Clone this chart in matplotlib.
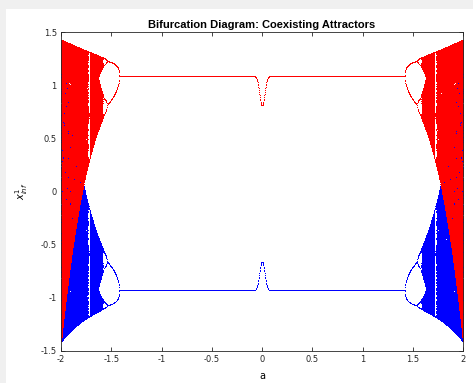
import matplotlib as mpl
mpl.use('Agg')
import matplotlib.pyplot as plt
import numpy as np

# values
a_min, a_max = -2.0, 2.0
n_a = 1601
red_level = 1.08        # upper fixed point
blue_level = -0.94      # lower fixed point
red_dip = 0.28          # depth of the dip of the upper branch at a = 0
blue_dip = 0.27         # height of the bump of the lower branch at a = 0
dip_width = 0.035
a_doubling = 1.42       # first period doubling
edge_at_2 = 1.42        # attractor extent at |a| = 2
x_ticks = [-2, -1.5, -1, -0.5, 0, 0.5, 1, 1.5, 2]
y_ticks = [-1.5, -1, -0.5, 0, 0.5, 1, 1.5]
n_transient = 3000
n_keep = 400

a = np.linspace(a_min, a_max, n_a)


def attractor(level, dip, sign):
    # level and dip are magnitudes, sign picks the upper (+1) or lower (-1) attractor
    t = np.clip((np.abs(a) - a_doubling) / (a_max - a_doubling), 0, 1)
    r = np.where(t > 0, 4 - (1 - t) ** 2.5, 3 - 2 * (a_doubling - np.abs(a)))
    r = np.maximum(r, 2.2)
    zstar = 1 - 1 / r
    s = t ** 3
    mid = edge_at_2 / 2
    c = level + (mid - level) * s - dip * np.exp(-(a / dip_width) ** 2)
    q = 1 + (2 * edge_at_2 - 1) * s
    z = np.full_like(a, 0.3)
    for _ in range(n_transient):
        z = r * z * (1 - z)
    out = np.empty((n_keep, n_a))
    for k in range(n_keep):
        z = r * z * (1 - z)
        out[k] = sign * (c + q * (z - zstar))
    return out


y_red = attractor(red_level, red_dip, 1)
y_blue = attractor(-blue_level, blue_dip, -1)

fig = plt.figure(figsize=(4.73, 3.83), dpi=100, facecolor='#f0f0f0')
fig.patches.append(plt.Rectangle((6 / 473, 0), 1, 1 - 9 / 383, transform=fig.transFigure,
                                 facecolor='white', edgecolor='none', zorder=-1))
ax = fig.add_axes([61 / 473, 1 - 351 / 383, 402 / 473, 319 / 383])

A = np.tile(a, (n_keep, 1))
ax.plot(A.ravel(), y_blue.ravel(), ',', color='#0000ff')
ax.plot(A.ravel(), y_red.ravel(), ',', color='#ff0000')

ax.set_xlim(-2, 2)
ax.set_ylim(-1.5, 1.5)
ax.set_xticks(x_ticks)
ax.set_xticklabels(['-2', '-1.5', '-1', '-0.5', '0', '0.5', '1', '1.5', '2'])
ax.set_yticks(y_ticks)
ax.set_yticklabels(['-1.5', '-1', '-0.5', '0', '0.5', '1', '1.5'])
ax.tick_params(direction='in', top=True, right=True, length=3, width=0.6,
               labelsize=6, colors='#262626', pad=3)
for s in ax.spines.values():
    s.set_color('#262626')
    s.set_linewidth(0.6)
ax.set_title('Bifurcation Diagram: Coexisting Attractors', fontsize=8, fontweight='bold',
             family='Liberation Sans', pad=3)
ax.set_xlabel('a', fontsize=7, labelpad=5)
ax.set_ylabel(r'$x^1_{inf}$', fontsize=7, labelpad=8)

fig.savefig('out.png', dpi=100, facecolor=fig.get_facecolor())
